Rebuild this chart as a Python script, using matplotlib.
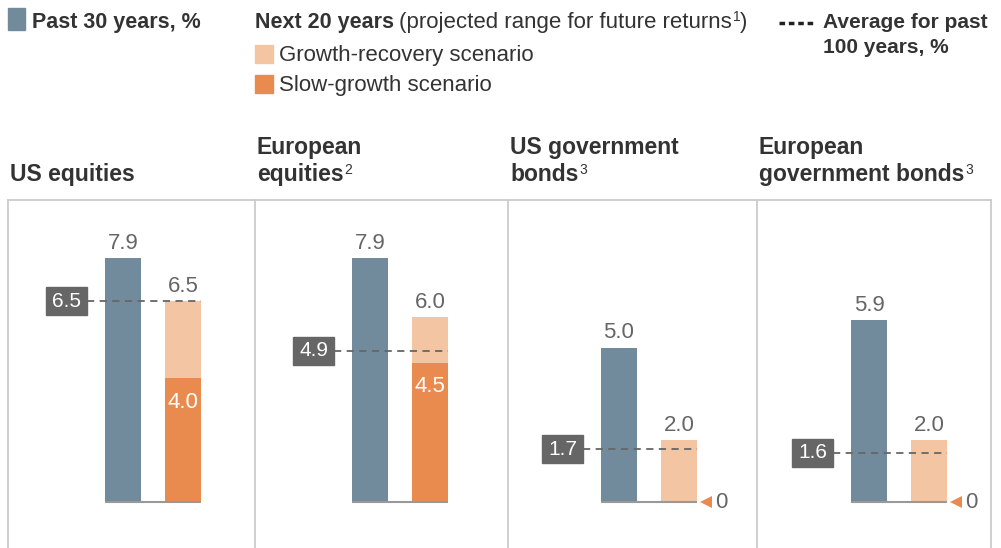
import matplotlib
matplotlib.use("Agg")
import matplotlib.pyplot as plt
from matplotlib.patches import Rectangle
from matplotlib.lines import Line2D

plt.rcParams['font.family'] = ['Liberation Sans', 'DejaVu Sans']

# --- data ---
categories = ["US equities", "European\nequities", "US government\nbonds",
              "European\ngovernment bonds"]
notes = ["", "2", "3", "3"]
past30 = [7.9, 7.9, 5.0, 5.9]
growth_recovery = [6.5, 6.0, 2.0, 2.0]
slow_growth = [4.0, 4.5, 0.0, 0.0]
avg100 = [6.5, 4.9, 1.7, 1.6]

# --- style ---
C_PAST = '#718B9C'
C_GROW = '#F3C5A3'
C_SLOW = '#E98B4E'
C_BOX = '#666666'
C_TEXT = '#333333'
C_VAL = '#666666'
C_BORDER = '#CCCCCC'

W, H = 1001, 548
fig = plt.figure(figsize=(W / 100, H / 100), dpi=100)
renderer = fig.canvas.get_renderer()


def fx(x):
    return x / W


def fy(y):
    return 1 - y / H


def sup(t, text, y_px):
    # small raised footnote marker right after a text object
    bb = t.get_window_extent(renderer=renderer)
    return fig.text(fx(bb.x1 + 1), fy(y_px - 7), text, fontsize=10, color=C_TEXT,
                    va='baseline')


# panel layout in pixels
edges = [8, 255, 508, 757, 991]
bar_centers = [123, 370, 619, 869]
top_px, base_px, bottom_px = 200, 502, 548
px_per_x = 60.0
px_per_y = 30.9

for i, cat in enumerate(categories):
    x0, x1 = edges[i], edges[i + 1]
    ax = fig.add_axes([fx(x0), 0, fx(x1 - x0), (bottom_px - top_px) / H])
    c = bar_centers[i]
    ax.set_xlim((x0 - c) / px_per_x, (x1 - c) / px_per_x)
    ax.set_ylim(-(bottom_px - base_px) / px_per_y, (base_px - top_px) / px_per_y)
    ax.set_xticks([])
    ax.set_yticks([])
    for s in ax.spines.values():
        s.set_color(C_BORDER)
        s.set_linewidth(1.3)
    ax.spines['bottom'].set_visible(False)
    if i < len(categories) - 1:
        ax.spines['right'].set_visible(False)

    # bars
    ax.bar(0, past30[i], width=0.6, color=C_PAST, zorder=2)
    ax.bar(1, growth_recovery[i], width=0.6, color=C_GROW, zorder=2)
    if slow_growth[i] > 0:
        ax.bar(1, slow_growth[i], width=0.6, color=C_SLOW, zorder=2)
        ax.annotate(f"{slow_growth[i]:.1f}", (1, slow_growth[i]), xytext=(0, -21),
                    textcoords='offset points', ha='center', va='baseline',
                    fontsize=16, color='white', zorder=5)
    else:
        ax.plot(1.45, 0, marker='<', color=C_SLOW, ms=8, mew=0, zorder=4)
        ax.text(1.6, 0, "0", ha='left', va='center', fontsize=16, color=C_VAL)

    ax.hlines(0, -0.3, 1.3, color='#999999', lw=1.5, zorder=3)

    for xpos, v in [(0, past30[i]), (1, growth_recovery[i])]:
        ax.annotate(f"{v:.1f}", (xpos, v), xytext=(0, 6.5), textcoords='offset points',
                    ha='center', va='baseline', fontsize=16, color=C_VAL)

    # 100-year average line + box label
    a = avg100[i]
    ax.plot([-0.6, 1.3], [a, a], color='#666666', lw=1.3, dashes=(4, 3), zorder=4)
    bw, bh = 41 / px_per_x, 28 / px_per_y
    ax.add_patch(Rectangle((-0.94 - bw / 2, a - bh / 2), bw, bh, color=C_BOX,
                           zorder=5, clip_on=False))
    ax.text(-0.94, a, f"{a:.1f}", ha='center', va='center', fontsize=15,
            color='white', zorder=6)

    # panel title
    lines = cat.split("\n")
    last = fig.text(fx(x0 + 2), fy(181), lines[-1], ha='left', va='baseline',
                    fontsize=16.5, fontweight='bold', color=C_TEXT)
    if len(lines) > 1:
        fig.text(fx(x0 + 2), fy(154), lines[0], ha='left', va='baseline',
                 fontsize=16.5, fontweight='bold', color=C_TEXT)
    if notes[i]:
        sup(last, notes[i], 181)

# --- legend ---
fig.patches.append(Rectangle((fx(8), fy(30)), fx(17), 22 / H, color=C_PAST,
                             transform=fig.transFigure, figure=fig))
fig.text(fx(32), fy(28), "Past 30 years, %", fontsize=15.5, fontweight='bold',
         color=C_TEXT, va='baseline')

t = fig.text(fx(255), fy(28), "Next 20 years", fontsize=15.5, fontweight='bold',
             color=C_TEXT, va='baseline')
bb = t.get_window_extent(renderer=renderer)
t2 = fig.text(fx(bb.x1 + 5), fy(28), "(projected range for future returns", fontsize=16,
              color=C_TEXT, va='baseline')
t3 = sup(t2, "1", 28)
bb3 = t3.get_window_extent(renderer=renderer)
fig.text(fx(bb3.x1), fy(28), ")", fontsize=16, color=C_TEXT, va='baseline')

fig.patches.append(Rectangle((fx(255), fy(63)), fx(18), 18 / H, color=C_GROW,
                             transform=fig.transFigure, figure=fig))
fig.text(fx(279), fy(61), "Growth-recovery scenario", fontsize=16,
         color=C_TEXT, va='baseline')
fig.patches.append(Rectangle((fx(255), fy(93)), fx(18), 18 / H, color=C_SLOW,
                             transform=fig.transFigure, figure=fig))
fig.text(fx(279), fy(91), "Slow-growth scenario", fontsize=16,
         color=C_TEXT, va='baseline')

fig.lines.append(Line2D([fx(779), fx(815)], [fy(23), fy(23)], color='#222222', lw=2.5,
                        dashes=(1.6, 1.1), transform=fig.transFigure, figure=fig))
fig.text(fx(823), fy(28), "Average for past", fontsize=15, fontweight='bold',
         color=C_TEXT, va='baseline')
fig.text(fx(823), fy(53), "100 years, %", fontsize=15, fontweight='bold',
         color=C_TEXT, va='baseline')

fig.savefig("out.png", dpi=100)
